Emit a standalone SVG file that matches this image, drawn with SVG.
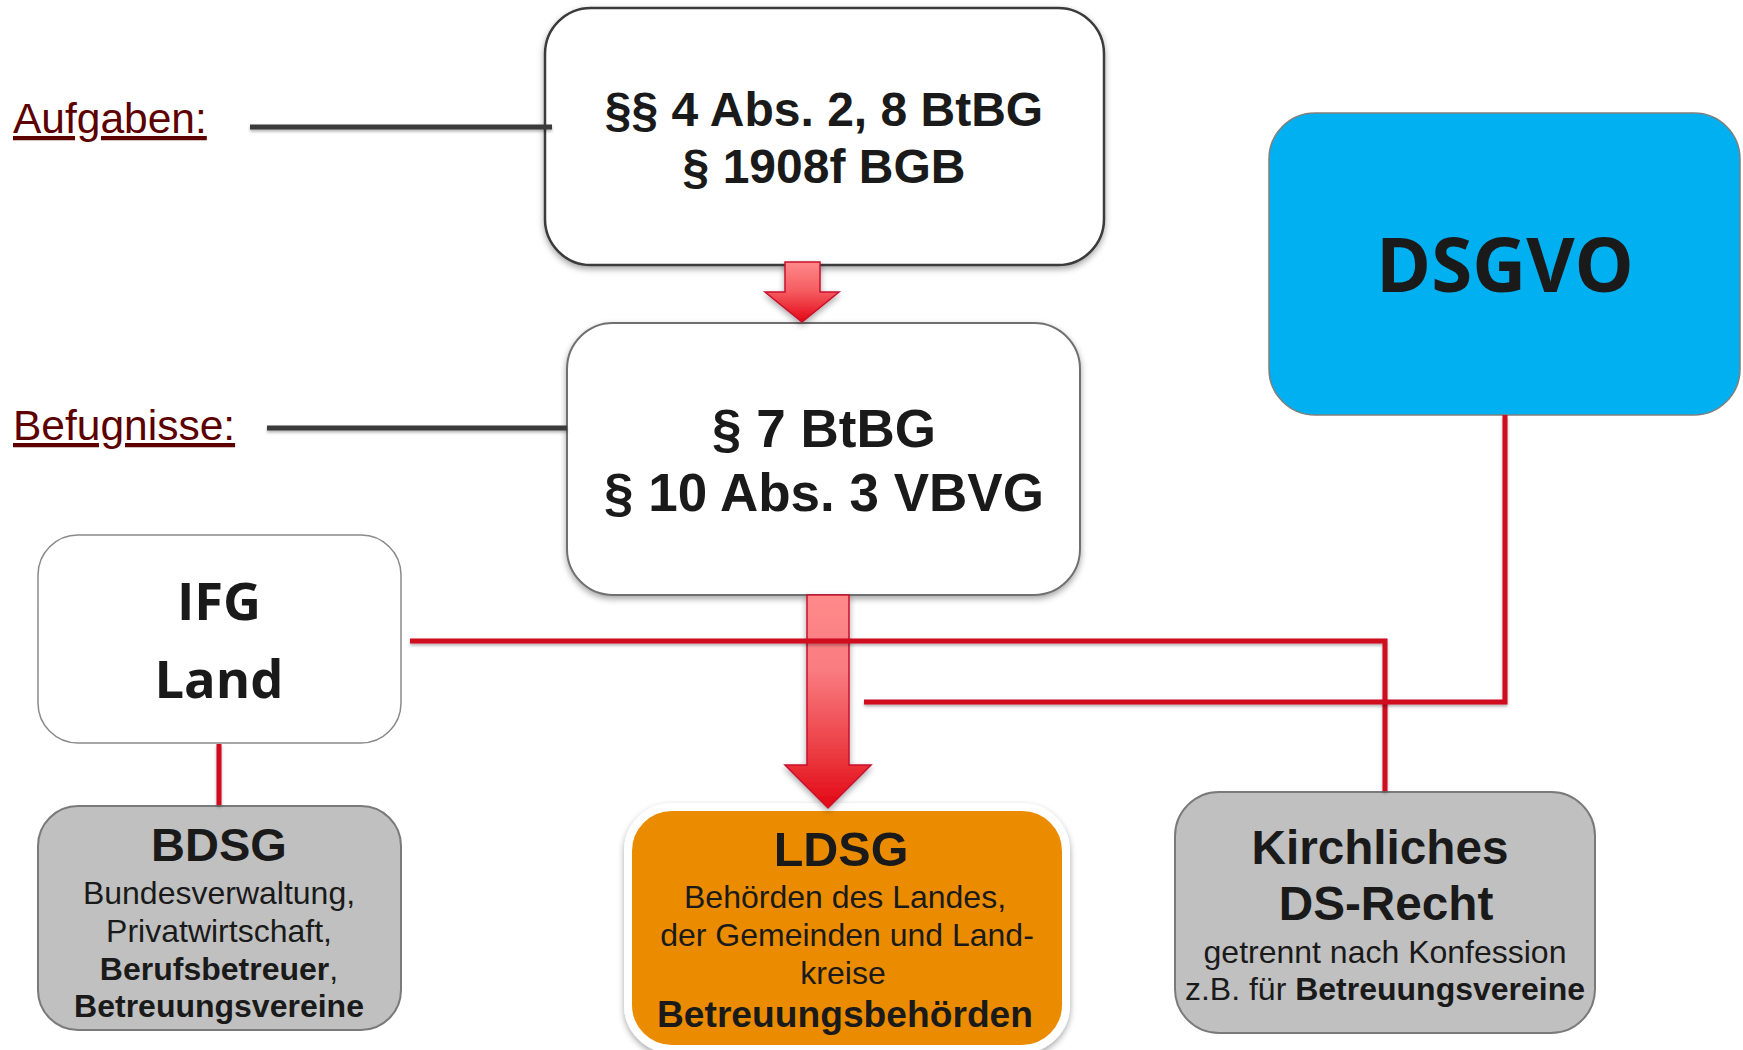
<svg xmlns="http://www.w3.org/2000/svg" width="1743" height="1050" viewBox="0 0 1743 1050">
<defs>
<style>
.ar{font-family:"Liberation Sans",Arial,sans-serif;fill:#1a1a1a;text-anchor:middle}
.b{font-weight:bold}
.cal{font-family:"Open Sans","Noto Sans",sans-serif;font-weight:bold;fill:#1a1a1a;text-anchor:middle}
.lbl{font-family:"Liberation Sans",Arial,sans-serif;font-size:42.5px;fill:#5c0000;text-decoration:underline}
.red{stroke:#d0081e;stroke-width:5;fill:none;filter:url(#ls)}
.dark{stroke:#3a3a3a;stroke-width:5;fill:none;filter:url(#ls)}
</style>
<filter id="sh" x="-10%" y="-10%" width="120%" height="130%">
<feDropShadow dx="0" dy="3" stdDeviation="3" flood-color="#000" flood-opacity="0.35"/>
</filter>
<filter id="ls" filterUnits="userSpaceOnUse" x="0" y="0" width="1743" height="1050">
<feDropShadow dx="0" dy="2" stdDeviation="1.5" flood-color="#000" flood-opacity="0.3"/>
</filter>
<linearGradient id="g1" x1="0" y1="0" x2="0" y2="1">
<stop offset="0" stop-color="#ff8a8a"/>
<stop offset="0.5" stop-color="#f45a5f"/>
<stop offset="1" stop-color="#e30613"/>
</linearGradient>
<linearGradient id="g2" x1="0" y1="0" x2="0" y2="1">
<stop offset="0" stop-color="#ff8a8a"/>
<stop offset="0.35" stop-color="#f97c80"/>
<stop offset="0.75" stop-color="#eb3a40"/>
<stop offset="1" stop-color="#e30613"/>
</linearGradient>
</defs>

<g id="label-aufgaben"><text class="lbl" x="13" y="133">Aufgaben:</text></g>
<g id="label-befugnisse"><text class="lbl" x="13" y="440">Befugnisse:</text></g>

<g id="node-aufgaben">
<rect x="545" y="8" width="559" height="257" rx="46" fill="#fff" stroke="#3a3a3a" stroke-width="2.5" filter="url(#sh)"/>
<text class="ar b" font-size="48" x="824" y="126">§§ 4 Abs. 2, 8 BtBG</text>
<text class="ar b" font-size="48" x="824" y="183">§ 1908f BGB</text>
</g>

<g id="node-befugnisse">
<rect x="567" y="323" width="513" height="272" rx="46" fill="#fff" stroke="#707070" stroke-width="2" filter="url(#sh)"/>
<text class="ar b" font-size="53" x="824" y="447">§ 7 BtBG</text>
<text class="ar b" font-size="53" x="824" y="511">§ 10 Abs. 3 VBVG</text>
</g>

<g id="node-dsgvo">
<rect x="1269" y="113" width="471" height="302" rx="46" fill="#00b0f0" stroke="#7f7f7f" stroke-width="1.5"/>
<text class="cal" font-size="74.5" x="1505" y="292">DSGVO</text>
</g>

<g id="node-ifg">
<rect x="38" y="535" width="363" height="208" rx="40" fill="#fff" stroke="#8a8a8a" stroke-width="1.5"/>
<text class="cal" font-size="52.5" x="219" y="620">IFG</text>
<text class="cal" font-size="52.5" x="219" y="698">Land</text>
</g>

<g id="node-bdsg">
<rect x="38" y="806" width="363" height="224" rx="40" fill="#c0c0c0" stroke="#7a7a7a" stroke-width="2"/>
<text class="ar b" font-size="47" x="219" y="861">BDSG</text>
<text class="ar" font-size="32" x="219" y="904">Bundesverwaltung,</text>
<text class="ar" font-size="32" x="219" y="942">Privatwirtschaft,</text>
<text class="ar" font-size="32" x="219" y="980"><tspan class="b">Berufsbetreuer</tspan>,</text>
<text class="ar b" font-size="32" x="219" y="1017">Betreuungsvereine</text>
</g>

<g id="node-ldsg">
<rect x="628" y="807" width="438" height="242" rx="44" fill="#eb8c00" stroke="#fff" stroke-width="8" filter="url(#sh)"/>
<text class="ar b" font-size="48.5" x="841" y="866">LDSG</text>
<text class="ar" font-size="32" x="845" y="908">Behörden des Landes,</text>
<text class="ar" font-size="32" x="847" y="946">der Gemeinden und Land-</text>
<text class="ar" font-size="32" x="843" y="984">kreise</text>
<text class="ar b" font-size="37.2" x="845" y="1027">Betreuungsbehörden</text>
</g>

<g id="node-kirche">
<rect x="1175" y="792" width="420" height="241" rx="44" fill="#c0c0c0" stroke="#7a7a7a" stroke-width="2"/>
<text class="ar b" font-size="47.7" x="1380" y="864">Kirchliches</text>
<text class="ar b" font-size="47.7" x="1386" y="920">DS-Recht</text>
<text class="ar" font-size="32" x="1385" y="963">getrennt nach Konfession</text>
<text class="ar" font-size="32" x="1385" y="1000">z.B. für <tspan class="b">Betreuungsvereine</tspan></text>
</g>

<g id="arrow-top">
<path d="M785,262 H820 V292 H839 L802,322 L765,292 H785 Z" fill="url(#g1)" stroke="#c8102e" stroke-width="1.5" filter="url(#sh)"/>
</g>
<g id="arrow-main">
<path d="M807,595 H849 V765 H871 L828,808 L785,765 H807 Z" fill="url(#g2)" stroke="#c8102e" stroke-width="1.5" filter="url(#sh)"/>
</g>

<g id="connectors">
<line class="dark" x1="250" y1="127" x2="552" y2="127"/>
<line class="dark" x1="267" y1="428" x2="567" y2="428"/>
<polyline class="red" points="410,641 1385,641 1385,791"/>
<polyline class="red" points="864,702 1505,702 1505,415"/>
<line class="red" x1="219" y1="744" x2="219" y2="805"/>
</g>
</svg>
